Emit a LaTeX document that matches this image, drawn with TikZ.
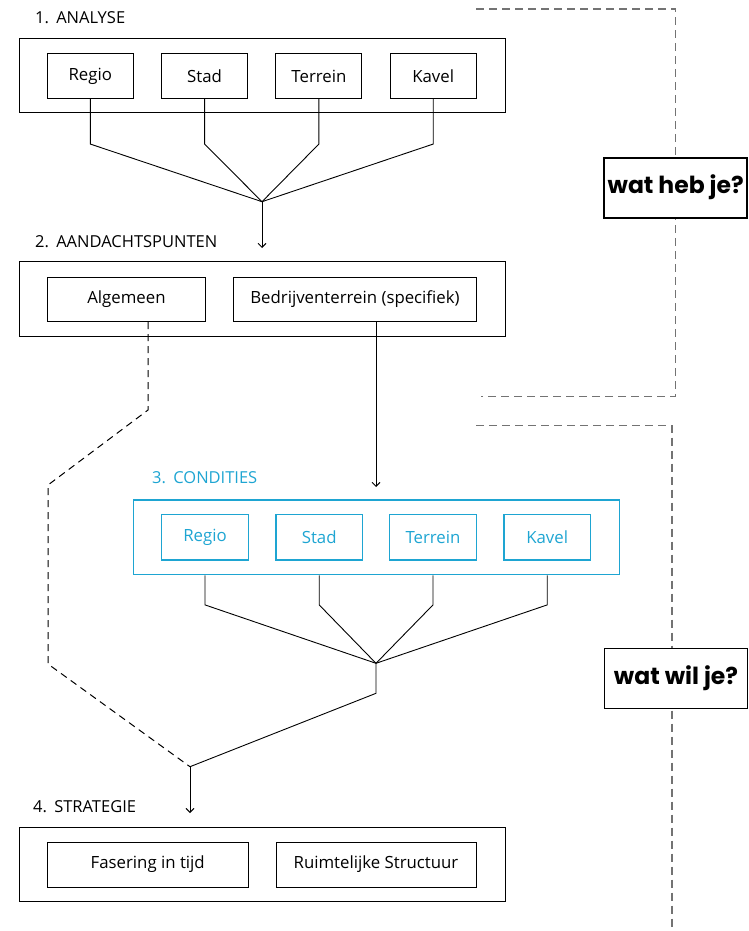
\documentclass[tikz,border=0pt]{standalone}
\usepackage{fontspec}
\setmainfont{Open Sans}
\newfontfamily\qfont{Poppins}
\usetikzlibrary{arrows.meta}
\definecolor{cblue}{RGB}{30,165,210}
\definecolor{dgray}{RGB}{115,115,115}
\tikzset{
  outerbox/.style={draw=black, line width=1pt, minimum height=74pt, minimum width=486pt, inner sep=0pt},
  innerbox/.style={draw=black, line width=1pt, minimum height=44.5pt, inner sep=0pt, font=\fontsize{16.8}{19}\selectfont},
  bouterbox/.style={outerbox, draw=cblue, line width=1.3pt},
  binnerbox/.style={innerbox, draw=cblue, line width=1.3pt, text=cblue},
  sectlabel/.style={anchor=west, inner sep=0pt, font=\fontsize{16.5}{19}\selectfont},
  conn/.style={draw=black, line width=0.9pt},
  arr/.style={conn, -{Straight Barb[length=4pt,width=8pt,line width=0.9pt]}},
  bdash/.style={draw=black, line width=1pt, dash pattern=on 7pt off 5pt},
  gdash/.style={draw=dgray, line width=1.5pt, dash pattern=on 8pt off 5pt},
  qbox/.style={draw=black, fill=white, line width=1.6pt, minimum width=143pt, minimum height=60pt, inner sep=0pt, font=\qfont\bfseries\fontsize{23.5}{25}\selectfont},
}
\newcommand{\numgap}{\hspace{3pt}}
\begin{document}
\begin{tikzpicture}[x=1pt, y=-1pt]
\useasboundingbox (0,0) rectangle (749,931);

% right dashed brackets
\coordinate (t1) at (476,9);
\coordinate (t2) at (675.7,9);
\coordinate (t3) at (675.7,396.7);
\coordinate (t4) at (480.7,396.7);
\draw[gdash] (t1) -- (t2) -- (t3) -- (t4);
\coordinate (u1) at (476,425.7);
\coordinate (u2) at (672,425.7);
\coordinate (u3) at (672,931);
\draw[gdash] (u1) -- (u2) -- (u3);
\node[qbox] (q1) at (675.7,187.7) {wat heb je?};
\node[qbox] (q2) at (676,678.3) {wat wil je?};

% Section 1
\node[sectlabel] (l1) at (35,18) {1.\numgap\ ANALYSE};
\node[outerbox] (o1) at (262,76) {};
\node[innerbox, minimum width=86pt] (a1) at (90.3,76) {Regio};
\node[innerbox, minimum width=86pt] (a2) at (204.6,76) {Stad};
\node[innerbox, minimum width=86pt] (a3) at (318.9,76) {Terrein};
\node[innerbox, minimum width=86pt] (a4) at (433.2,76) {Kavel};
\coordinate (c1) at (262,201.7);
\coordinate (e1) at (262,248);
\foreach \n in {a1,a2,a3,a4}{
  \draw[conn] (\n.south) -- ++(0,45.3) -- (c1);
}
\draw[arr] (c1) -- (e1);

% Section 2
\node[sectlabel] (l2) at (35,242) {2.\numgap\ AANDACHTSPUNTEN};
\node[outerbox, minimum height=74.5pt] (o2) at (262,299) {};
\node[innerbox, minimum width=157.6pt] (b1) at (126.5,299.3) {Algemeen};
\node[innerbox, minimum width=243.4pt] (b2) at (355,299.3) {Bedrijventerrein (specifiek)};
\coordinate (d1) at (148,410);
\coordinate (d2) at (48,485);
\coordinate (d3) at (48,664);
\coordinate (m) at (190,766.7);
\draw[bdash] (d1 |- b1.south) -- (d1) -- (d2) -- (d3) -- (m);
\coordinate (e2) at (376,487);
\draw[arr] (e2 |- b2.south) -- (e2);

% Section 3
\node[sectlabel, text=cblue] (l3) at (152,478) {3.\numgap\ CONDITIES};
\node[bouterbox, minimum width=486pt, minimum height=74.7pt] (o3) at (376.3,537.3) {};
\node[binnerbox, minimum width=86.5pt, minimum height=45.7pt] (k1) at (205,537.2) {Regio};
\node[binnerbox, minimum width=86.5pt, minimum height=45.7pt] (k2) at (319.2,537.2) {Stad};
\node[binnerbox, minimum width=86.5pt, minimum height=45.7pt] (k3) at (433,537.2) {Terrein};
\node[binnerbox, minimum width=86.5pt, minimum height=45.7pt] (k4) at (547.2,537.2) {Kavel};
\coordinate (c3) at (376,663.3);
\coordinate (c3b) at (376,693.3);
\foreach \n in {k1,k2,k3,k4}{
  \draw[conn] (\n |- o3.south) -- ++(0,29.6) -- (c3);
}
\draw[conn] (c3) -- (c3b) -- (m);
\coordinate (e4) at (190,813);
\draw[arr] (m) -- (e4);

% Section 4
\node[sectlabel] (l4) at (33,806.7) {4.\numgap\ STRATEGIE};
\node[outerbox] (o4) at (262,864.7) {};
\node[innerbox, minimum width=200.7pt, minimum height=45pt] (s1) at (147.7,864.5) {Fasering in tijd};
\node[innerbox, minimum width=200pt, minimum height=45pt] (s2) at (376,864.5) {Ruimtelijke Structuur};
\end{tikzpicture}
\end{document}
